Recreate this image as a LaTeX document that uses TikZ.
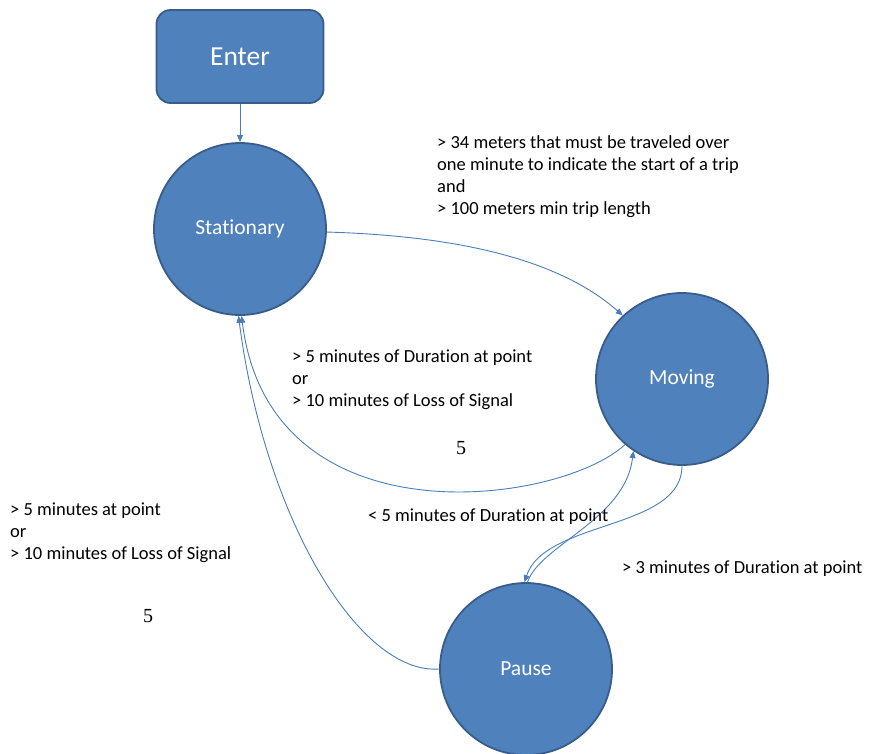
\documentclass[tikz,border=0pt]{standalone}
\usepackage{fontspec}
\setmainfont{Carlito}[Ligatures={NoCommon,NoContextual}]
\newfontfamily\timesfont{Liberation Serif}
\usetikzlibrary{arrows.meta}
\definecolor{fillblue}{HTML}{4F81BD}
\definecolor{edgeblue}{HTML}{385D8A}
\definecolor{linkblue}{HTML}{4A7EBB}
\begin{document}
\begin{tikzpicture}[x=1pt,y=-1pt,
  state/.style={circle, draw=edgeblue, line width=1.8pt, fill=fillblue, minimum size=172pt, inner sep=0pt, text=white, font=\fontsize{21.5}{26}\selectfont},
  startbox/.style={rectangle, rounded corners=14pt, draw=edgeblue, line width=1.8pt, fill=fillblue, minimum width=167pt, minimum height=93pt, inner sep=0pt, text=white, font=\fontsize{27.5}{32}\selectfont},
  link/.style={draw=linkblue, line width=0.9pt, -{Triangle[length=7pt,width=6pt]}},
  lbl/.style={anchor=north west, inner sep=0pt, align=left, font=\fontsize{18.5}{22}\selectfont},
  num/.style={inner sep=0pt, font=\timesfont\fontsize{20}{24}\selectfont}]
\useasboundingbox (0,0) rectangle (870,754);

% states
\node[startbox] (enter) at (240,56.5) {Enter};
\node[state] (stat) at (240,229) {Stationary};
\node[state] (mov) at (682,379) {Moving};
\node[state] (pause) at (526,669) {Pause};

% connectors
\draw[link] (enter.south) -- (stat.north);
\draw[link] (stat.-2) .. controls (460,236) and (560,260) .. (mov.133);
\draw[link] (mov.-131) .. controls (560,505) and (270,545) .. (stat.-89);
\draw[link] (pause.180) .. controls (360,675) and (265,520) .. (stat.-91);
\draw[link] (pause.89) .. controls (540,545) and (625,520) .. (mov.-124);
\draw[link] (mov.-90) .. controls (682,530) and (545,520) .. (pause.91);

% labels
\node[lbl] (l1) at (437,133) {\strut> 34 meters that must be traveled over\\one minute to indicate the start of a trip\\and\\> 100 meters min trip length};
\node[lbl] (l2) at (292,347) {\strut> 5 minutes of Duration at point\\or\\> 10 minutes of Loss of Signal};
\node[num] (n1) at (461,448) {5};
\node[lbl] (l3) at (10,500) {\strut> 5 minutes at point\\or\\> 10 minutes of Loss of Signal};
\node[num] (n2) at (148,616) {5};
\node[lbl] (l4) at (368,506) {\strut< 5 minutes of Duration at point};
\node[lbl] (l5) at (622,558) {\strut> 3 minutes of Duration at point};
\end{tikzpicture}
\end{document}
